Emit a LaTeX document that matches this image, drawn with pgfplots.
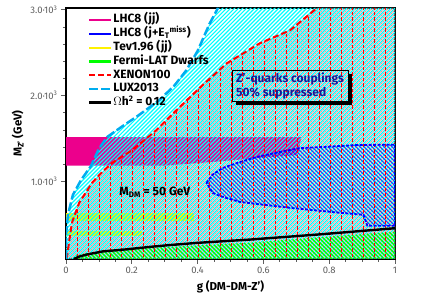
\documentclass[border=0pt]{standalone}
\usepackage{pgfplots}
\pgfplotsset{compat=1.18}
\usepackage{fontspec}
\setmainfont{Fira Sans}
\usetikzlibrary{patterns,patterns.meta}
\definecolor{salmon}{RGB}{255,140,140}
\definecolor{navytext}{RGB}{25,25,150}
\definecolor{tickgray}{RGB}{95,95,95}
\tikzdeclarepattern{
  name=vdashes,
  type=uncolored,
  bottom left={(-1pt,-0.5pt)},
  top right={(1pt,6pt)},
  tile size={(11pt,5.5pt)},
  code={\draw[line width=0.6pt] (0pt,0pt) -- (0pt,3.5pt);}
}
\begin{document}
\begin{tikzpicture}
\begin{axis}[
  scale only axis, width=329pt, height=251pt,
  xmin=0, xmax=1, ymin=100, ymax=3020,
  no markers,
  axis line style={line width=1.4pt, black},
  xtick={0,0.2,0.4,0.6,0.8,1}, xticklabels={0,0.2,0.4,0.6,0.8,1},
  ytick={1000,2000,3000},
  yticklabels={1.0·10\textsuperscript{3},2.0·10\textsuperscript{3},3.0·10\textsuperscript{3}},
  minor x tick num=3, minor y tick num=4,
  tick align=outside, tick pos=left,
  major tick length=5pt, minor tick length=3pt,
  every tick/.style={tickgray, line width=0.8pt},
  tick label style={font=\fontsize{9.5}{11}\selectfont, text=tickgray},
  xlabel={g (DM-DM-Z')}, ylabel={M\textsubscript{Z'} (GeV)},
  label style={font=\bfseries\fontsize{11.5}{13}\selectfont},
  legend image code/.code={\draw[#1] (0pt,0pt) -- (22pt,0pt);},
  legend style={at={(0.057,0.985)}, anchor=north west, draw=none, fill=none,
    font=\bfseries\fontsize{12}{13}\selectfont, row sep=1.8pt,
    nodes={inner sep=0.5pt, text height=8.5pt, text depth=2.5pt}},
  legend cell align=left,
]
% XENON100 salmon hatch
\addplot[forget plot, draw=none, pattern={Lines[angle=45,distance=2.83pt,line width=0.85pt,xshift=-0.586pt,yshift=1.414pt]}, pattern color=salmon]
coordinates {(0,100) (0.003,127) (0.009,289) (0.018,521) (0.040,753) (0.079,985) (0.110,1113) (0.140,1217) (0.202,1368) (0.275,1600) (0.336,1832) (0.415,2122) (0.489,2377) (0.589,2609) (0.681,2760) (0.763,3020) (1,3020) (1,100)} -- cycle;
% LHC8 (jj) magenta band
\addplot[forget plot, draw=none, fill=magenta]
coordinates {(0,1186) (0.30,1186) (0.45,1230) (0.60,1280) (0.705,1310) (0.715,1519) (0,1519)} -- cycle;
% Tevatron yellow bands
\addplot[forget plot, draw=none, fill=yellow]
coordinates {(0,544) (0.39,544) (0.39,637) (0,637)} -- cycle;
\addplot[forget plot, draw=none, fill=yellow]
coordinates {(0,370) (0.232,370) (0.232,428) (0,428)} -- cycle;
% LUX2013 cyan hatch
\addplot[forget plot, draw=none, pattern={Lines[angle=45,distance=2.83pt,line width=1.1pt]}, pattern color=cyan]
coordinates {(0,100) (0,380) (0.006,614) (0.021,846) (0.046,1020) (0.076,1182) (0.100,1380) (0.125,1519) (0.17,1640) (0.22,1770) (0.284,1948) (0.33,2120) (0.366,2296) (0.40,2520) (0.437,2841) (0.462,3020) (1,3020) (1,100)} -- cycle;
% Fermi-LAT green hatch
\addplot[forget plot, draw=none, pattern={Lines[angle=-45,distance=2.83pt,line width=1.2pt]}, pattern color=green]
coordinates {(0.02,100) (0.03,140) (0.06,168) (0.25,228) (0.56,290) (0.76,350) (1,418) (1,100)} -- cycle;
% LHC8 (j+MET) blue crosshatch
\addplot[forget plot, draw=none, pattern={Lines[angle=-45,distance=2.83pt,line width=0.55pt]}, pattern color=blue]
coordinates {(0.427,985) (0.445,1080) (0.476,1159) (0.53,1230) (0.58,1287) (0.65,1345) (0.711,1391) (0.782,1403) (0.885,1426) (1.0,1430) (1.0,486) (0.916,486) (0.904,614) (0.834,637) (0.681,695) (0.58,740) (0.528,764) (0.47,830) (0.446,869)} -- cycle;
% XENON100 vertical dashes
\addplot[forget plot, draw=none, pattern=vdashes, pattern color=red]
coordinates {(0,100) (0.003,127) (0.009,289) (0.018,521) (0.040,753) (0.079,985) (0.110,1113) (0.140,1217) (0.202,1368) (0.275,1600) (0.336,1832) (0.415,2122) (0.489,2377) (0.589,2609) (0.681,2760) (0.763,3020) (1,3020) (1,100)} -- cycle;
% boundaries
\addplot[forget plot, blue, line width=1.8pt, dash pattern=on 3pt off 1.5pt]
coordinates {(0.427,985) (0.445,1080) (0.476,1159) (0.53,1230) (0.58,1287) (0.65,1345) (0.711,1391) (0.782,1403) (0.885,1426) (1.0,1430) (1.0,486) (0.916,486) (0.904,614) (0.834,637) (0.681,695) (0.58,740) (0.528,764) (0.47,830) (0.446,869)} -- cycle;
\addplot[forget plot, red, line width=2pt, dash pattern=on 6pt off 3pt]
coordinates {(0,104) (0.003,127) (0.009,289) (0.018,521) (0.040,753) (0.079,985) (0.110,1113) (0.140,1217) (0.202,1368) (0.275,1600) (0.336,1832) (0.415,2122) (0.489,2377) (0.589,2609) (0.681,2760) (0.763,3020)};
\addplot[forget plot, cyan, line width=2.5pt, dash pattern=on 9pt off 3pt]
coordinates {(0,100) (0,380) (0.006,614) (0.021,846) (0.046,1020) (0.076,1182) (0.100,1380) (0.125,1519) (0.17,1640) (0.22,1770) (0.284,1948) (0.33,2120) (0.366,2296) (0.40,2520) (0.437,2841) (0.462,3020)};
\addplot[forget plot, black, line width=2.4pt]
coordinates {(0.024,100) (0.04,128) (0.061,150) (0.111,188) (0.183,212) (0.253,240) (0.315,262) (0.40,288) (0.559,326) (0.763,384) (1.0,458)};
% legend
\addlegendimage{magenta, line width=2pt}
\addlegendentry{LHC8 (jj)}
\addlegendimage{blue, line width=2pt}
\addlegendentry{LHC8 (j+E\textsubscript{T}\textsuperscript{miss})}
\addlegendimage{yellow, line width=2pt}
\addlegendentry{Tev1.96 (jj)}
\addlegendimage{green, line width=3pt}
\addlegendentry{Fermi-LAT Dwarfs}
\addlegendimage{red, line width=2.5pt, dash pattern=on 6pt off 3pt}
\addlegendentry{XENON100}
\addlegendimage{cyan, line width=2.5pt, dash pattern=on 9pt off 3pt}
\addlegendentry{LUX2013}
\addlegendimage{black, line width=3pt}
\addlegendentry{$\Omega$h\textsuperscript{2} = 0.12}
% annotations
\node[font=\bfseries\fontsize{12}{13}\selectfont] at (axis cs:0.27,881) {M\textsubscript{DM} = 50 GeV};
\node[draw=black, line width=0.8pt, text=navytext, align=left, anchor=north west,
      font=\bfseries\fontsize{12}{14}\selectfont, inner xsep=4pt, inner ysep=2pt]
      (zbox) at (axis cs:0.504,2296) {Z'-quarks couplings\\50\% suppressed};
\fill[black] ([yshift=-4pt]zbox.north east) rectangle ([xshift=4pt,yshift=-4pt]zbox.south east);
\fill[black] ([xshift=4pt]zbox.south west) rectangle ([xshift=4pt,yshift=-4pt]zbox.south east);
\end{axis}
\pgfresetboundingbox
\path[use as bounding box] (-66pt,-48pt) rectangle (356pt,259pt);
\end{tikzpicture}
\end{document}
